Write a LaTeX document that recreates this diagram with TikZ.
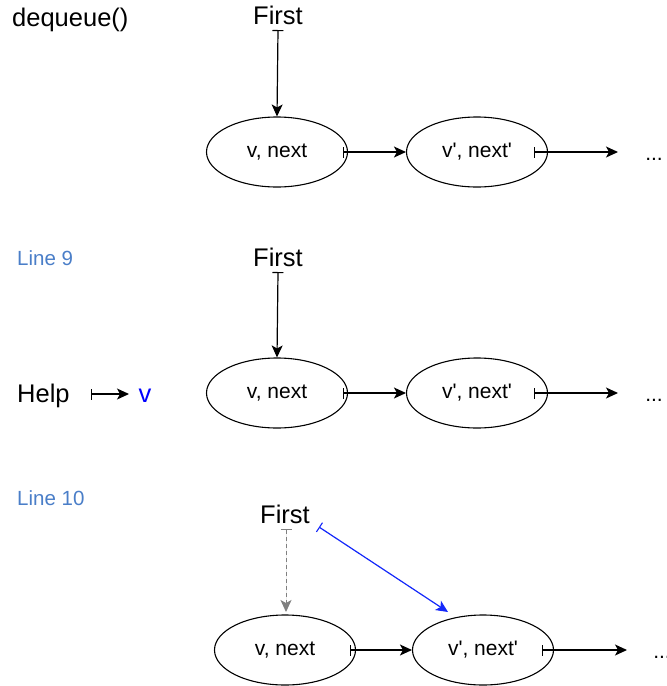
\documentclass[tikz,border=0pt]{standalone}
\usepackage{fontspec}
\setmainfont{Liberation Sans}[Ligatures=TeXOff]
\usetikzlibrary{arrows.meta,shapes.geometric}
\definecolor{steplabel}{RGB}{74,126,200}
\definecolor{hlblue}{RGB}{20,40,250}
\definecolor{oldgray}{RGB}{128,128,128}
\tikzset{
  big/.style={font=\fontsize{25.5}{30}\selectfont, inner sep=0pt, anchor=base},
  linelabel/.style={font=\fontsize{20.5}{24}\selectfont, text=steplabel, inner sep=0pt, anchor=base west},
  cell/.style={draw, ellipse, line width=1.1pt, minimum width=141pt, minimum height=70pt,
    font=\fontsize{21}{25}\selectfont, inner sep=0pt},
  ptr/.style={{Bar[width=11pt,line width=1.1pt]}-{Stealth[length=12pt,width=11pt,inset=3pt]}, line width=1.2pt},
  dots/.style={font=\fontsize{21}{25}\selectfont, inner sep=0pt, anchor=base}
}
\begin{document}
\begin{tikzpicture}[x=1pt,y=-1pt]
\useasboundingbox (0,0) rectangle (667,686);

% ---- dequeue()
\node[big, anchor=base west] (title) at (12,26) {dequeue()};
\node[big] (first1) at (278,24) {First};
\coordinate (f1) at (278,30);
\node[cell] (a1) at (277,152) {v, next};
\node[cell] (b1) at (477,152) {v', next'};
\coordinate (a1p) at (343,152);
\coordinate (b1p) at (534,152);
\coordinate (c1) at (618,152);
\node[dots] (d1) at (654,160) {...};
\draw[ptr] (f1) -- (a1.north);
\draw[ptr] (a1p) -- (b1.west);
\draw[ptr] (b1p) -- (c1);

% ---- Line 9
\node[linelabel] (l9) at (17,265) {Line 9};
\node[big] (first2) at (278,266) {First};
\coordinate (f2) at (278,272);
\node[big, anchor=base west] (help) at (17,402) {Help};
\coordinate (h0) at (91,394);
\coordinate (h1) at (129,394);
\node[big, text=blue] (hv) at (145,402) {v};
\node[cell] (a2) at (277,393) {v, next};
\node[cell] (b2) at (477,393) {v', next'};
\coordinate (a2p) at (343,393);
\coordinate (b2p) at (534,393);
\coordinate (c2) at (618,393);
\node[dots] (d2) at (654,401) {...};
\draw[ptr] (f2) -- (a2.north);
\draw[ptr] (h0) -- (h1);
\draw[ptr] (a2p) -- (b2.west);
\draw[ptr] (b2p) -- (c2);

% ---- Line 10
\node[linelabel] (l10) at (17,505) {Line 10};
\node[big] (first3) at (285,523) {First};
\coordinate (f3) at (286,529);
\coordinate (g3) at (286,612);
\coordinate (s3) at (319,527);
\coordinate (t3) at (448,612);
\node[cell] (a3) at (285,650) {v, next};
\node[cell] (b3) at (483,650) {v', next'};
\coordinate (a3p) at (350,650);
\coordinate (b3p) at (542,650);
\coordinate (c3) at (627,650);
\node[dots] (d3) at (662,658) {...};
\draw[ptr, draw=oldgray, fill=oldgray, dash pattern=on 4pt off 3pt, line width=1pt] (f3) -- (g3);
\draw[ptr, draw=hlblue, fill=hlblue] (s3) -- (t3);
\draw[ptr] (a3p) -- (b3.west);
\draw[ptr] (b3p) -- (c3);
\end{tikzpicture}
\end{document}
